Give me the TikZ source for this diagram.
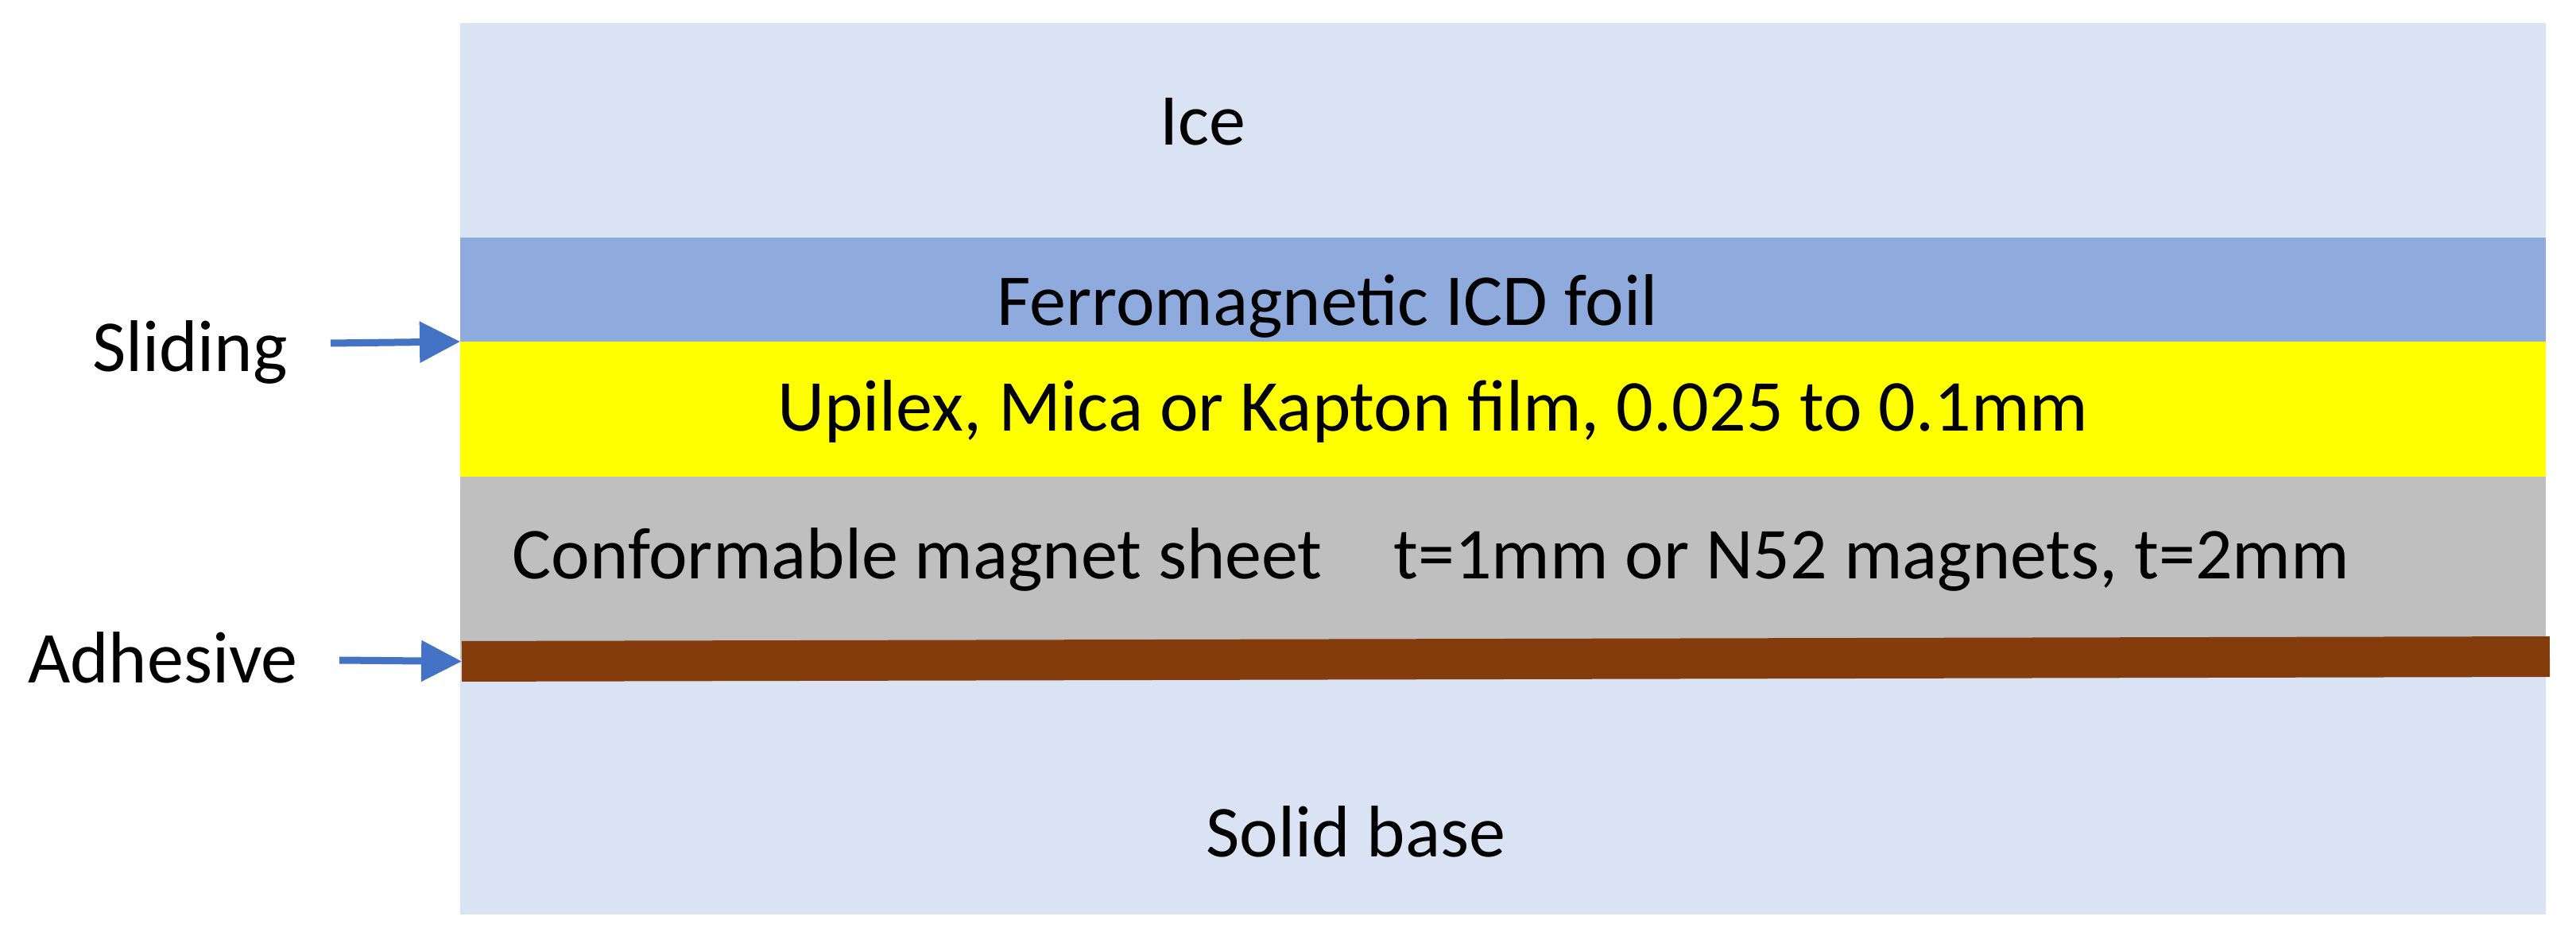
\documentclass[tikz,border=0pt]{standalone}
\usepackage{fontspec}
\setmainfont{Carlito}
\usetikzlibrary{positioning, arrows.meta}
\definecolor{iceblue}{HTML}{DAE3F3}
\definecolor{foilblue}{HTML}{8FAADC}
\definecolor{filmyellow}{HTML}{FFFF00}
\definecolor{magnetgray}{HTML}{BFBFBF}
\definecolor{gluebrown}{HTML}{843C0C}
\definecolor{arrowblue}{HTML}{4472C4}
\tikzset{
layer/.style={inner sep=0pt, outer sep=0pt, minimum width=26.24cm}, % one band of the stack
lbl/.style={font=\fontsize{26.2}{31}\selectfont, inner sep=0pt, anchor=base}, % text on and beside the bands
ptr/.style={-{Triangle[length=0.51cm, width=0.5cm]}, line width=0.09cm, draw=arrowblue}, % blue side arrows
}

\begin{document}
\begin{tikzpicture}
            \useasboundingbox (0,0) rectangle (32.41,11.92);

            \node[layer, fill=iceblue, minimum height=2.70cm, anchor=north west] (ice) at (5.79,11.63) {};
            \node[lbl] (icetext) at (15.13,10.09) {Ice};
            \node[layer, fill=foilblue, minimum height=1.31cm, below=0pt of ice] (foil) {};
            \node[lbl] (foiltext) at (16.70,7.82) {Ferromagnetic ICD foil};
            \node[layer, fill=filmyellow, minimum height=1.70cm, below=0pt of foil] (film) {};
            \node[lbl] (filmtext) at (18.03,6.49) {Upilex, Mica or Kapton film, 0.025 to 0.1mm};
            \node[layer, fill=magnetgray, minimum height=2.30cm, below=0pt of film] (magnet) {};
            \node[lbl, anchor=base west] (magnettext) at (6.44,4.63) {Conformable magnet sheet\hspace{0.9cm}t=1mm or N52 magnets, t=2mm};
            \node[layer, fill=iceblue, minimum height=3.21cm, below=0pt of magnet] (base) {};
            \node[lbl] (basetext) at (17.06,1.13) {Solid base};
            \node[layer, fill=gluebrown, minimum width=26.27cm, minimum height=0.51cm, rotate=0.13] (glue) at (18.945,3.625) {};

            \node[lbl] (sliding) at (2.39,7.24) {Sliding};
            \node[lbl] (adhesive) at (2.05,3.32) {Adhesive};
            \coordinate (slidetail) at (4.16,7.60);
            \coordinate (gluetail) at (4.27,3.61);

            \draw[ptr] (slidetail) -- (foil.south west);
            \draw[ptr] (gluetail) -- (glue.west);
        \end{tikzpicture}
\end{document}
